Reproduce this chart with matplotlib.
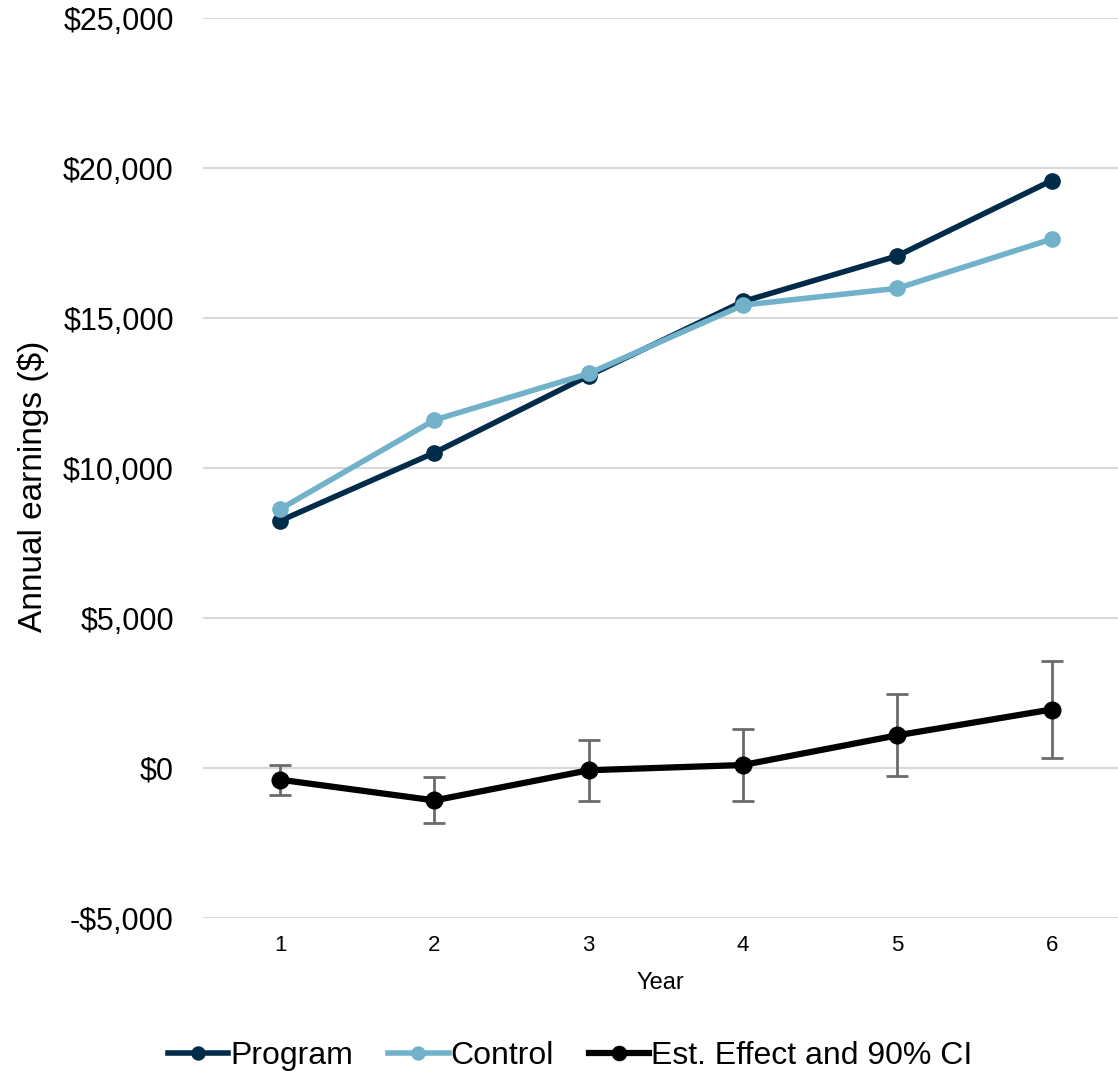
import matplotlib.pyplot as plt
from matplotlib.ticker import FuncFormatter

plt.rcParams['font.family'] = ['Liberation Sans', 'DejaVu Sans']

years = [1, 2, 3, 4, 5, 6]
program = [8240, 10510, 13080, 15550, 17070, 19580]
control = [8630, 11600, 13150, 15430, 15990, 17630]
effect = [-390, -1080, -75, 100, 1090, 1950]
ci_low = [-890, -1830, -1090, -1110, -250, 340]
ci_high = [90, -300, 920, 1290, 2480, 3560]

fig = plt.figure(figsize=(11.18, 10.71), dpi=100)
ax = fig.add_axes([203 / 1118, 153 / 1071, 1 - 203 / 1118, 900 / 1071])

ax.plot(years, program, color='#002B49', lw=4, marker='o', ms=11, label='Program', zorder=3)
ax.plot(years, control, color='#72B1CA', lw=4, marker='o', ms=11, label='Control', zorder=4)

yerr = [[e - lo for e, lo in zip(effect, ci_low)], [hi - e for e, hi in zip(effect, ci_high)]]
ax.errorbar(years, effect, yerr=yerr, fmt='none', ecolor='#6B6B6B', elinewidth=2,
            capsize=8, capthick=2, zorder=2)
ax.plot(years, effect, color='black', lw=4.5, marker='o', ms=12,
        label='Est. Effect and 90% CI', zorder=5)

ax.set_xlim(0.5, 6.43)
ax.set_ylim(-5000, 25000)
ax.set_yticks(range(-5000, 25001, 5000))
ax.yaxis.set_major_formatter(FuncFormatter(
    lambda v, p: f'-${abs(v):,.0f}' if v < 0 else f'${v:,.0f}'))
ax.set_xticks(years)

ax.grid(axis='y', color='#D9D9D9', lw=1.5)
ax.set_axisbelow(True)
for s in ax.spines.values():
    s.set_visible(False)
ax.tick_params(axis='y', length=0, labelsize=22, pad=21)
ax.tick_params(axis='x', length=0, labelsize=16, pad=12)

ax.set_xlabel('Year', fontsize=17, labelpad=12)
ax.set_ylabel('Annual earnings ($)', fontsize=24)
ax.yaxis.set_label_coords(-154 / 915, 0.48)

fig.legend(loc='center', bbox_to_anchor=(570 / 1118, 1 - 1056 / 1071), ncol=3,
           frameon=False, fontsize=23, handlelength=1.9, handletextpad=0.05,
           columnspacing=1.1, markerscale=0.85)

fig.savefig('out.png', dpi=100)
